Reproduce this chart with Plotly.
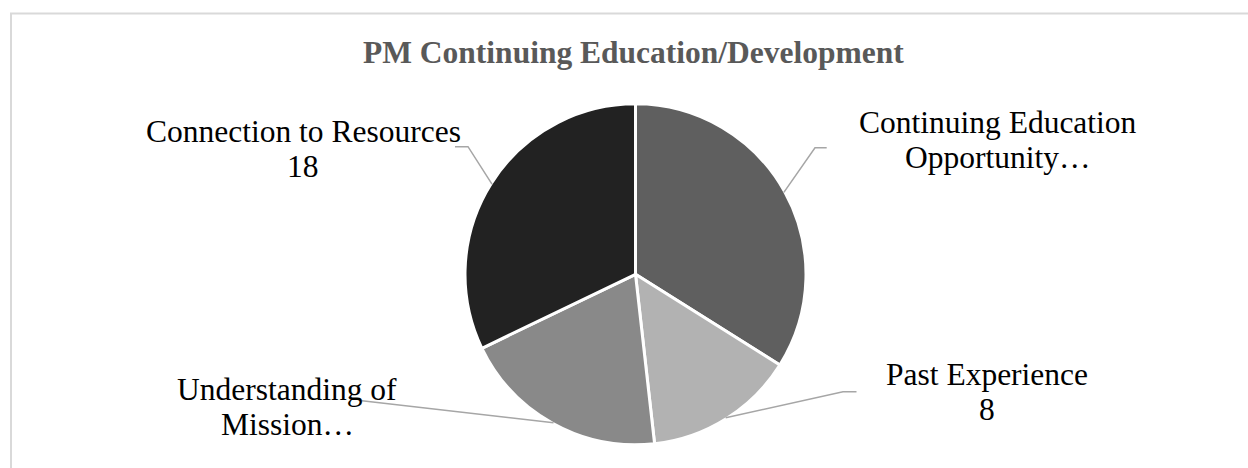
import math
import plotly.graph_objects as go

# ---- data ----
categories = ["Continuing Education Opportunity", "Past Experience",
              "Understanding of Mission", "Connection to Resources"]
values = [19, 8, 11, 18]
label_line1 = ["Continuing Education", "Past Experience", "Understanding of", "Connection to Resources"]
label_line2 = ["Opportunity…", str(values[1]), "Mission…", str(values[3])]
colors = ["#5f5f5f", "#b2b2b2", "#898989", "#222222"]

# ---- layout constants (pixels) ----
W, H = 1248, 468
CX, CY, R = 635.5, 274.3, 170.5
FONT = "Liberation Serif"
FS = 31.5
LINE_GAP = 35
# label centres (x) and first-line baselines (y), plus leader elbow points
label_pos = [(998, 133), (987, 385), (287, 400), (303, 141.7)]
elbows = [[(815, 147.7), (826.7, 147.7)],
          [(843, 391.7), (856.5, 391.7)],
          [(362, 400.7)],
          [(468, 146.7), (455, 146.7)]]


def px(x):
    return x / W


def py(y):
    return 1 - y / H


fig = go.Figure(go.Pie(
    labels=categories, values=values, sort=False, direction="clockwise", rotation=0,
    marker=dict(colors=colors, line=dict(color="white", width=3)),
    textinfo="none", hoverinfo="label+value", showlegend=False,
    domain=dict(x=[px(CX - R), px(CX + R)], y=[py(CY + R), py(CY - R)]),
))

shapes = [dict(type="rect", xref="paper", yref="paper",
               x0=px(11), y0=py(13.5), x1=px(W + 20), y1=py(H + 20),
               line=dict(color="#d9d9d9", width=2), fillcolor="rgba(0,0,0,0)", layer="below")]

total = sum(values)
cum = 0
annotations = []
asc_mid = 0.3375 * FS
for i, v in enumerate(values):
    mid = (cum + v / 2) / total * 2 * math.pi
    cum += v
    ex = CX + (R - 1) * math.sin(mid)
    ey = CY - (R - 1) * math.cos(mid)
    pts = [(ex, ey)] + elbows[i]
    path = "M " + " L ".join(f"{px(x):.5f},{py(y):.5f}" for x, y in pts)
    shapes.append(dict(type="path", xref="paper", yref="paper", path=path,
                       line=dict(color="#a6a6a6", width=1.5)))
    lx, ly = label_pos[i]
    for j, t in enumerate([label_line1[i], label_line2[i]]):
        annotations.append(dict(
            text=t, x=px(lx), y=py(ly + j * LINE_GAP - asc_mid),
            xref="paper", yref="paper", xanchor="center", yanchor="middle",
            showarrow=False, font=dict(family=FONT, size=FS, color="#000000")))

annotations.append(dict(
    text="<b>PM Continuing Education/Development</b>", x=px(633.4), y=py(62.7 - asc_mid),
    xref="paper", yref="paper", xanchor="center", yanchor="middle", showarrow=False,
    font=dict(family=FONT, size=FS, color="#595959")))

fig.update_layout(
    width=W, height=H, margin=dict(l=0, r=0, t=0, b=0),
    paper_bgcolor="white", plot_bgcolor="white",
    shapes=shapes, annotations=annotations, showlegend=False,
)

fig.write_html("out.html", config={"displayModeBar": False})
